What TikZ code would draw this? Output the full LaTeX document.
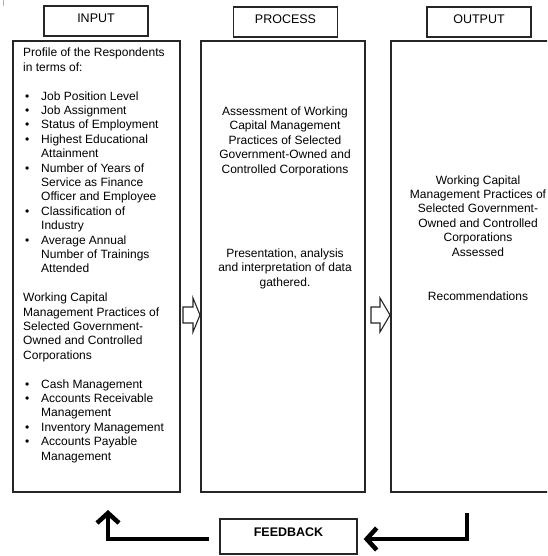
\documentclass[tikz,border=0pt]{standalone}
\usepackage{fontspec}
\setmainfont{Liberation Sans}
\usepackage{tikz}
\usetikzlibrary{arrows.meta}
\newcommand{\itm}[1]{\makebox[18pt][l]{\hspace{2pt}\textbullet}#1}
\newcommand{\cnt}[1]{\hspace*{18pt}#1}

\begin{document}
\begin{tikzpicture}[x=1pt,y=-1pt,
  box/.style={draw=black!85,line width=1.3pt,inner sep=0pt},
  head/.style={box,minimum width=104pt,minimum height=30pt,font=\fontsize{12.5}{14}\selectfont,text height=9pt,text depth=5pt},
  txt/.style={inner sep=0pt,font=\fontsize{12}{14.4}\selectfont},
  hollow/.style={draw=black!85,line width=1.1pt,fill=white,line join=miter},
  fbarrow/.style={line width=4.5pt,-{Straight Barb[length=10pt,width=22pt]}}]
\clip (0,0) rectangle (547,556);
\draw[gray!60] (3,0)--(3,6);

% headers
\node[head] (inhead) at (96,21) {INPUT};
\node[head] (prochead) at (285.5,22) {PROCESS};
\node[head] (outhead) at (479,22) {OUTPUT};

% the three columns
\node[box,minimum width=167pt,minimum height=451pt] (inbox) at (96.5,266.5) {};
\node[box,minimum width=164pt,minimum height=451pt] (procbox) at (283,266.5) {};
\node[box,minimum width=178pt,minimum height=451pt] (outbox) at (480,266.5) {};

% multi-line texts sit on the baseline of their last line
\node[txt,anchor=base west,align=left] (intext) at (23,460) {Profile of the Respondents\\
in terms of:\\[14.4pt]
\itm{Job Position Level}\\
\itm{Job Assignment}\\
\itm{Status of Employment}\\
\itm{Highest Educational}\\
\cnt{Attainment}\\
\itm{Number of Years of}\\
\cnt{Service as Finance}\\
\cnt{Officer and Employee}\\
\itm{Classification of}\\
\cnt{Industry}\\
\itm{Average Annual}\\
\cnt{Number of Trainings}\\
\cnt{Attended}\\[14.4pt]
Working Capital\\
Management Practices of\\
Selected Government-\\
Owned and Controlled\\
Corporations\\[14.4pt]
\itm{Cash Management}\\
\itm{Accounts Receivable}\\
\cnt{Management}\\
\itm{Inventory Management}\\
\itm{Accounts Payable}\\
\cnt{Management}};

\node[txt,anchor=base,align=center] (proctext) at (285,173) {Assessment of Working\\
Capital Management\\
Practices of Selected\\
Government-Owned and\\
Controlled Corporations};
\node[txt,anchor=base,align=center] (procdata) at (285,286) {Presentation, analysis\\
and interpretation of data\\
gathered.};

\node[txt,anchor=base,align=center] (outtext) at (478,256) {Working Capital\\
Management Practices of\\
Selected Government-\\
Owned and Controlled\\
Corporations\\
Assessed};
\node[txt,anchor=base] (outrec) at (478,300) {Recommendations};

% hollow arrows between columns
\draw[hollow] (183,307)--++(10,0)--++(0,-9)--++(7,17)--++(-7,17)--++(0,-9)--++(-10,0)--cycle;
\draw[hollow] (371,307)--++(9,0)--++(0,-9)--++(10,17)--++(-10,17)--++(0,-9)--++(-9,0)--cycle;

% feedback loop
\node[box,minimum width=137pt,minimum height=35pt,font=\fontsize{12.5}{14}\selectfont\bfseries,text height=9pt,text depth=9pt] (fb) at (288.5,536.5) {FEEDBACK};
\coordinate (fbin) at (108,510);
\coordinate (fbout) at (467,513);
\draw[fbarrow] ([shift={(-10,2.5)}]fb.west) -| (fbin);
\draw[fbarrow] (fbout) |- ([shift={(6,2.5)}]fb.east);
\end{tikzpicture}
\end{document}
